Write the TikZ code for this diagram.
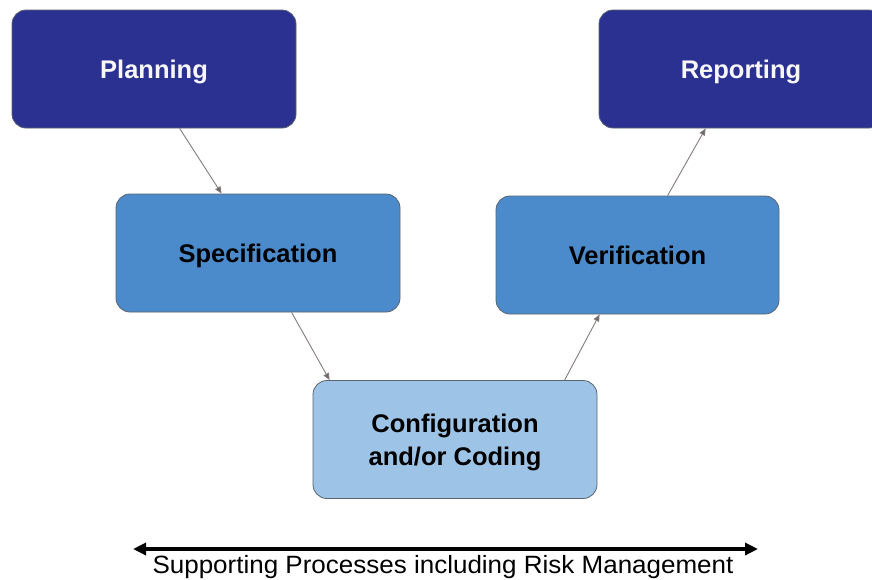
\documentclass[tikz,border=0pt]{standalone}
\usepackage{fontspec}
\setmainfont{Liberation Sans}
\usetikzlibrary{arrows.meta,calc}
\definecolor{navybox}{HTML}{2B3190}
\definecolor{midbox}{HTML}{4B8BCB}
\definecolor{lightbox}{HTML}{9DC3E6}
\definecolor{edgegray}{HTML}{5A6470}
\definecolor{linkgray}{HTML}{877C7C}
\tikzset{
  stagebox/.style={draw=edgegray, line width=0.8pt, rounded corners=14pt,
    minimum width=284pt, minimum height=118pt, align=center, text depth=0pt,
    font=\fontsize{25.5}{33}\selectfont\bfseries},
  toplevel/.style={stagebox, fill=navybox, text=white!94!gray},
  midlevel/.style={stagebox, fill=midbox, text=black},
  lowlevel/.style={stagebox, fill=lightbox, text=black},
  link/.style={draw=linkgray, line width=0.9pt,
    -{Triangle[length=7pt,width=6pt,fill=linkgray!80!black]}},
  spanarrow/.style={line width=3.6pt, {Triangle[length=13pt,width=12pt]}-{Triangle[length=13pt,width=12pt]}}
}
\begin{document}
\begin{tikzpicture}[x=1pt,y=-1pt]
  \useasboundingbox[fill=white] (0,0) rectangle (872,579);
  \clip (0,0) rectangle (872,579);

  % process stages (the last box runs past the right edge)
  \node[toplevel] (plan)   at (154,69)    {Planning};
  \node[toplevel] (report) at (741,69)    {Reporting};
  \node[midlevel] (spec)   at (258,253)   {Specification};
  \node[midlevel, minimum width=283pt] (verif)  at (637.5,255) {Verification};
  \node[lowlevel] (config) at (455,439.5) {Configuration\\and/or Coding};

  % flow down the left side and up the right side
  \draw[link] ([xshift=168pt]plan.south west)  -- ([xshift=106pt]spec.north west);
  \draw[link] ([xshift=176pt]spec.south west)  -- ([xshift=17pt]config.north west);
  \draw[link] ([xshift=252pt]config.north west) -- ([xshift=104pt]verif.south west);
  \draw[link] ([xshift=172pt]verif.north west) -- ([xshift=107pt]report.south west);

  % supporting processes span
  \coordinate (spanL) at (133,549);
  \coordinate (spanR) at (758,549);
  \draw[spanarrow] (spanL) -- (spanR);
  \node[font=\fontsize{25}{28}\selectfont, inner sep=0pt, anchor=base] (support) at (443,573)
    {\scalebox{1.04}[1]{Supporting Processes including Risk Management}};
\end{tikzpicture}
\end{document}
